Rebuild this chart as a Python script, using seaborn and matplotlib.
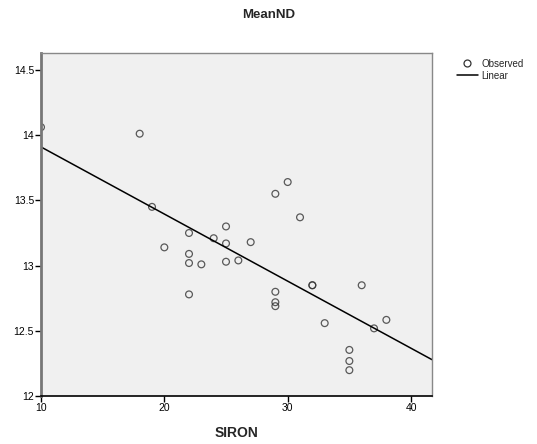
import numpy as np
import pandas as pd
import seaborn as sns
import matplotlib
matplotlib.use("Agg")
import matplotlib.pyplot as plt
from matplotlib.lines import Line2D

siron = [10, 18, 19, 20, 22, 22, 22, 22, 23, 24, 25, 25, 25, 26, 27,
         29, 29, 29, 29, 30, 31, 32, 32, 33, 35, 35, 35, 36, 37, 38]
meannd = [14.06, 14.01, 13.45, 13.14, 13.25, 13.09, 13.02, 12.78, 13.01, 13.21,
          13.30, 13.17, 13.03, 13.04, 13.18, 13.55, 12.80, 12.72, 12.69, 13.64,
          13.37, 12.85, 12.85, 12.56, 12.355, 12.27, 12.20, 12.85, 12.52, 12.585]
xticks = [10, 20, 30, 40]
yticks = [12, 12.5, 13, 13.5, 14, 14.5]
yticklabels = ["12", "12.5", "13", "13.5", "14", "14.5"]

df = pd.DataFrame({"SIRON": siron, "MeanND": meannd})

sns.set_style("white")
plt.rcParams["font.family"] = ["Liberation Sans", "DejaVu Sans"]

fig = plt.figure(figsize=(5.37, 4.44), dpi=100)
ax = fig.add_axes([41/537, 1-396.3/444, (432-41)/537, (396.3-52.7)/444])
ax.set_facecolor("#f0f0f0")
ax.set_xlim(10, 41.7)
ax.set_ylim(12, 14.63)

sns.regplot(data=df, x="SIRON", y="MeanND", ax=ax, ci=None, truncate=False,
            scatter_kws=dict(s=24, facecolors="none", edgecolors="#333333", linewidths=0.9),
            line_kws=dict(color="black", linewidth=1.1), marker="o")
ax.set_xlim(10, 41.7)
ax.set_ylim(12, 14.63)

ax.set_xticks(xticks)
ax.set_yticks(yticks)
ax.set_yticklabels(yticklabels)
ax.tick_params(axis="both", direction="out", length=4, width=1, labelsize=7.5,
               colors="black", pad=1, bottom=True, left=True)
for s in ["top", "right"]:
    ax.spines[s].set_color("#888888")
    ax.spines[s].set_linewidth(1)
ax.spines["left"].set_color("#777777")
ax.spines["left"].set_linewidth(2)
ax.spines["bottom"].set_color("black")
ax.spines["bottom"].set_linewidth(1.2)

ax.set_ylabel("")
ax.set_xlabel("SIRON", fontsize=10, fontweight="bold", labelpad=9)
fig.text(0.5, 1-15/444, "MeanND", ha="center", va="center", fontsize=9.5, fontweight="bold")

handles = [Line2D([], [], marker="o", linestyle="none", markerfacecolor="none",
                  markeredgecolor="#333333", markersize=5, markeredgewidth=0.9),
           Line2D([], [], color="black", linewidth=1.1)]
fig.legend(handles, ["Observed", "Linear"], loc="upper left",
           bbox_to_anchor=(448/537, 1-50/444), frameon=False, fontsize=7,
           handlelength=2.2, handletextpad=0.3, labelspacing=0.2)

fig.savefig("out.png", dpi=100)
